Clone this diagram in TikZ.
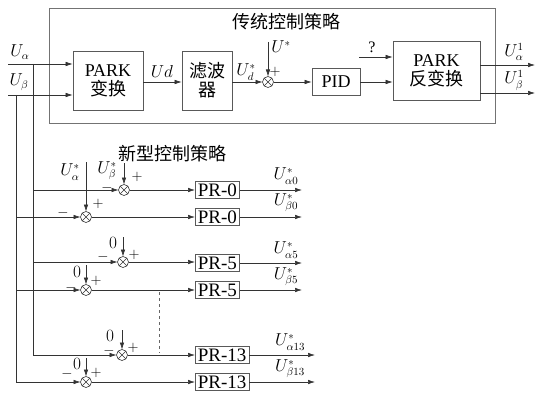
\documentclass[tikz,border=0pt]{standalone}
\usepackage{fontspec}
\setmainfont{Liberation Serif}
\newfontfamily\cjk{Noto Sans CJK SC}
\usetikzlibrary{arrows.meta}
\begin{document}
\begin{tikzpicture}[x=1pt,y=-1pt, line width=0.6pt,
  every node/.style={font=\fontsize{18}{21}\selectfont},
  box/.style={draw=black!65, line width=0.7pt, inner sep=0pt, align=center},
  prbox/.style={draw=black!65, line width=0.7pt, inner xsep=2.5pt, inner ysep=0pt, minimum height=17.5pt, anchor=west, font=\fontsize{19}{20}\selectfont},
  sumc/.style={circle, draw=black!80, minimum size=11pt, inner sep=0pt, outer sep=0pt,
    path picture={\draw[black!80] (path picture bounding box.north west) -- (path picture bounding box.south east)
      (path picture bounding box.south west) -- (path picture bounding box.north east);}},
  arr/.style={-{Latex[length=7pt,width=4.5pt]}, draw=black!80},
  ln/.style={draw=black!80},
  lab/.style={font=\fontsize{16}{18}\selectfont, inner sep=0pt},
  sgn/.style={font=\fontsize{15}{15}\selectfont, inner sep=0pt}]
\useasboundingbox (0,0) rectangle (537,393);

% ---------- traditional strategy ----------
\node[box, draw=black!55, minimum width=446pt, minimum height=115pt] (trad) at (272,65.5) {};
\node[inner sep=0pt] (ttl) at (286,22) {\cjk 传统控制策略};
\node[box, minimum width=70pt, minimum height=59pt] (park) at (108,80.5) {PARK\\[-2pt]{\cjk 变换}};
\node[box, minimum width=50pt, minimum height=59pt] (filt) at (207,80.5) {{\cjk 滤波}\\[-2pt]{\cjk 器}};
\node[sumc] (s0) at (268,82) {};
\node[box, minimum width=48pt, minimum height=27pt] (pid) at (336,82) {PID};
\node[box, minimum width=87pt, minimum height=59pt] (ipark) at (436.5,70.5) {PARK\\[-2pt]{\cjk 反变换}};

\coordinate (ina) at (8,64);
\coordinate (inb) at (8,95);
\draw[arr] (ina) -- (ina -| park.west);
\draw[arr] (inb) -- (inb -| park.west);
\node[lab] (lua) at (20,52) {$U_\alpha$};
\node[lab] (lub) at (19,82) {$U_\beta$};

\draw[arr] (park.east |- s0) -- (filt.west |- s0);
\node[lab] (lud) at (162,72) {$Ud$};
\draw[arr] (filt.east |- s0) -- (s0);
\node[lab] (luds) at (246,72) {$U_d^*$};
\coordinate (tu) at (268,42);
\draw[arr] (tu) -- (s0);
\node[lab] (lus) at (281,47) {$U^*$};
\node[sgn] (p0) at (275,72) {$+$};
\draw[arr] (s0) -- (pid);
\draw[arr] (pid) -- (pid -| ipark.west);
\coordinate (q) at (359,57);
\draw[arr] (q) -- (q -| ipark.west);
\node[lab] (lq) at (372,47) {?};
\coordinate (oa) at (535,65);
\coordinate (ob) at (535,93);
\draw[arr] (oa -| ipark.east) -- (oa);
\draw[arr] (ob -| ipark.east) -- (ob);
\node[lab] (loa) at (514,52) {$U_\alpha^1$};
\node[lab] (lob) at (514,80.5) {$U_\beta^1$};

% ---------- new strategy ----------
\node[inner sep=0pt] (ttl2) at (172,154) {\cjk 新型控制策略};

\node[sumc] (s1) at (124,190) {};
\node[sumc] (s2) at (86,217) {};
\node[sumc] (s3) at (123,262) {};
\node[sumc] (s4) at (86,290) {};
\node[sumc] (s5) at (122,355) {};
\node[sumc] (s6) at (86,382) {};

\node[prbox] (p1) at (195,190) {PR-0};
\node[prbox] (p2) at (195,217) {PR-0};
\node[prbox] (p3) at (195,263) {PR-5};
\node[prbox] (p4) at (195,290) {PR-5};
\node[prbox] (p5) at (195,355) {PR-13};
\node[prbox] (p6) at (195,382) {PR-13};

% branches
\coordinate (ba) at (33,64);
\coordinate (bb) at (16,95);
\draw[arr] (ba) |- (s5);
\draw[arr] (bb) |- (s6);
\draw[arr] (ba |- s1) -- (s1);
\draw[arr] (bb |- s2) -- (s2);
\draw[arr] (ba |- s3) -- (s3);
\draw[arr] (bb |- s4) -- (s4);

% sums to PR
\foreach \i in {1,...,6} {\draw[arr] (s\i) -- (p\i.west |- s\i);}

% outputs
\coordinate (o1) at (302,190);
\coordinate (o2) at (302,217);
\coordinate (o3) at (302,263);
\coordinate (o4) at (302,290);
\coordinate (o5) at (315,355);
\coordinate (o6) at (315,382);
\foreach \i in {1,...,6} {\draw[arr] (p\i.east |- o\i) -- (o\i);}
\node[lab] (lo1) at (286,176) {$U_{\alpha 0}^*$};
\node[lab] (lo2) at (286,203) {$U_{\beta 0}^*$};
\node[lab] (lo3) at (286,250) {$U_{\alpha 5}^*$};
\node[lab] (lo4) at (286,277) {$U_{\beta 5}^*$};
\node[lab] (lo5) at (290,342) {$U_{\alpha 13}^*$};
\node[lab] (lo6) at (290,369) {$U_{\beta 13}^*$};

% reference inputs
\coordinate (t1) at (124,163);
\coordinate (t2) at (86,162);
\coordinate (t3) at (123,237);
\coordinate (t4) at (86,265);
\coordinate (t5) at (122,330);
\coordinate (t6) at (86,358);
\foreach \i in {1,...,6} {\draw[arr] (t\i) -- (s\i);}
\node[lab] (lr1) at (107,171) {$U_\beta^*$};
\node[lab] (lr2) at (70,172) {$U_\alpha^*$};
\node[lab] (lr3) at (113,243) {$0$};
\node[lab] (lr4) at (77,272) {$0$};
\node[lab] (lr5) at (110,336) {$0$};
\node[lab] (lr6) at (77,364) {$0$};

% signs
\node[sgn] (pl1) at (137,177) {$+$};
\node[sgn] (mi1) at (107,187.5) {$-$};
\node[sgn] (pl2) at (98,204) {$+$};
\node[sgn] (mi2) at (63,213) {$-$};
\node[sgn] (pl3) at (134,255) {$+$};
\node[sgn] (mi3) at (103,257) {$-$};
\node[sgn] (pl4) at (96,281) {$+$};
\node[sgn] (mi4) at (71,288) {$-$};
\node[sgn] (pl5) at (133,348) {$+$};
\node[sgn] (mi5) at (109,351) {$-$};
\node[sgn] (pl6) at (96,373) {$+$};
\node[sgn] (mi6) at (67,374) {$-$};

% dashed separator
\coordinate (da) at (159,292);
\coordinate (db) at (159,353);
\draw[black!60, dashed, line width=0.5pt] (da) -- (db);
\end{tikzpicture}
\end{document}
